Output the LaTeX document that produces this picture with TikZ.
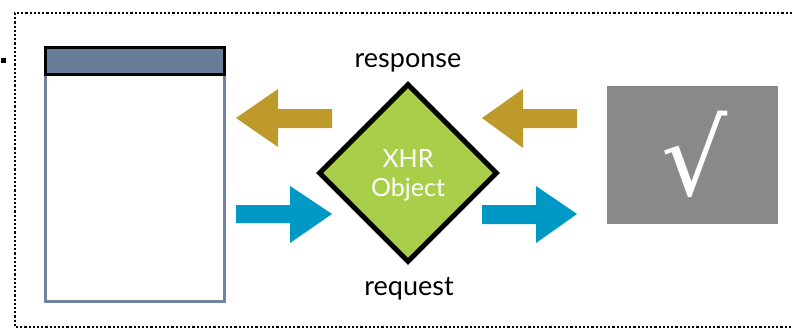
\documentclass[tikz,border=0pt]{standalone}
\usepackage{fontspec}
\setmainfont{Lato}
\newfontfamily\symfont{DejaVu Sans}
\begin{document}
\begin{tikzpicture}[x=1pt,y=-1pt,
  dotframe/.style={line width=2.2pt, dash pattern=on 2.2pt off 2pt},
  goldarrow/.style={fill=arrowgold, draw=none},
  bluearrow/.style={fill=arrowblue, draw=none},
  lbl/.style={font=\fontsize{27}{28}\selectfont, text=black, inner sep=0pt, anchor=base}
]
\definecolor{arrowgold}{HTML}{BE9A2A}
\definecolor{arrowblue}{HTML}{0099C6}
\definecolor{xhrgreen}{HTML}{A9CF4A}
\definecolor{titlebar}{HTML}{687D98}
\definecolor{winborder}{HTML}{7083A0}
\definecolor{checkgray}{HTML}{898989}
\useasboundingbox (0,0) rectangle (792,329);
% frame
\draw[dotframe] (792,13) -- (15,13) -- (15,327) -- (792,327);
\fill[black] (1,58) rectangle (6,63);
% browser window
\node[draw=winborder, line width=2.5pt, fill=white, minimum width=179pt, minimum height=227pt, inner sep=0pt, anchor=north west] (win) at (44,73) {};
\node[draw=black, line width=3pt, fill=titlebar, minimum width=179pt, minimum height=27pt, inner sep=0pt, anchor=north west] (bar) at (44,46) {};
% diamond
\node[draw=black, line width=5pt, fill=xhrgreen, shape=rectangle, rotate=45, minimum width=125pt, minimum height=125pt, inner sep=0pt] (xhr) at (408,173) {};
\node[text=white, font=\fontsize{25}{28}\selectfont, inner sep=0pt, anchor=base] (xhrtop) at (408,167) {XHR};
\node[text=white, font=\fontsize{25}{28}\selectfont, inner sep=0pt, anchor=base] (xhrbot) at (408,196) {Object};
\node[lbl] (resp) at (408,67) {response};
\node[lbl] (req) at (409,295) {request};
% check box
\node[fill=checkgray, minimum width=171pt, minimum height=138pt, inner sep=0pt, anchor=north west] (ok) at (607,86) {};
\node[text=white, font=\symfont\fontsize{104}{104}\selectfont, inner sep=0pt] (checkmark) at (695,154) {√};
% arrows
\fill[goldarrow] (236,118) -- (278,89) -- (278,109) -- (332,109) -- (332,128) -- (278,128) -- (278,147) -- cycle;
\fill[goldarrow] (482,118) -- (523,89) -- (523,109) -- (577,109) -- (577,128) -- (523,128) -- (523,148) -- cycle;
\fill[bluearrow] (332,214) -- (290,186) -- (290,205) -- (236,205) -- (236,223) -- (290,223) -- (290,243) -- cycle;
\fill[bluearrow] (577,214) -- (536,186) -- (536,205) -- (482,205) -- (482,224) -- (536,224) -- (536,243) -- cycle;
\end{tikzpicture}
\end{document}
